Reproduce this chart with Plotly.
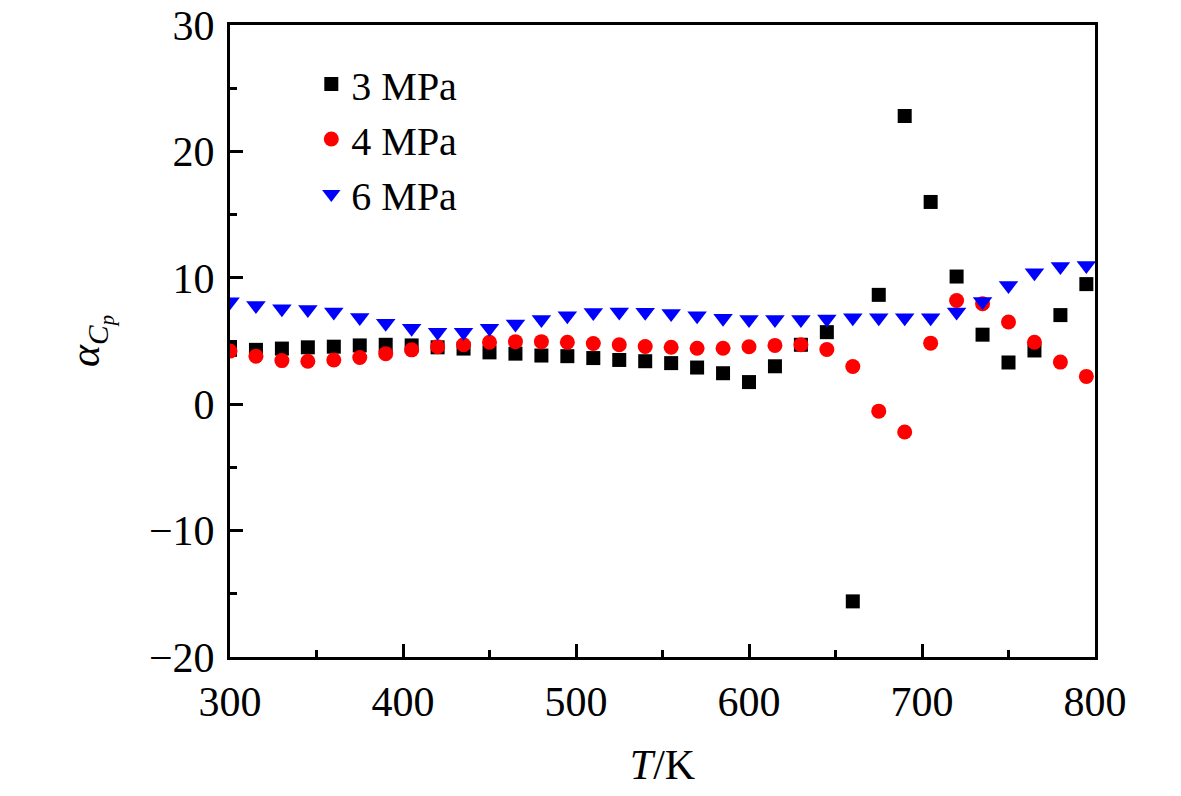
import plotly.graph_objects as go

# temperature, K
T = [300, 315, 330, 345, 360, 375, 390, 405, 420, 435, 450, 465, 480, 495, 510, 525, 540,
     555, 570, 585, 600, 615, 630, 645, 660, 675, 690, 705, 720, 735, 750, 765, 780, 795]

# alpha_cp at each pressure
a_3mpa = [4.3, 4.3, 4.4, 4.5, 4.55, 4.65, 4.7, 4.65, 4.5, 4.4, 4.1, 4.0, 3.85, 3.8, 3.65, 3.5, 3.4,
          3.25, 2.9, 2.45, 1.75, 3.0, 4.7, 5.7, -15.6, 8.65, 22.8, 16.0, 10.1, 5.5, 3.3, 4.25, 7.05, 9.5]
a_4mpa = [4.2, 3.8, 3.45, 3.4, 3.5, 3.7, 4.0, 4.3, 4.55, 4.7, 4.9, 4.95, 4.95, 4.9, 4.8, 4.7, 4.56,
          4.5, 4.43, 4.43, 4.55, 4.65, 4.7, 4.33, 2.98, -0.55, -2.2, 4.83, 8.2, 7.95, 6.5, 4.9, 3.33, 2.2]
a_6mpa = [8.1, 7.8, 7.55, 7.5, 7.3, 6.85, 6.4, 6.0, 5.7, 5.7, 6.0, 6.35, 6.7, 7.0, 7.25, 7.3, 7.27,
          7.17, 7.0, 6.8, 6.7, 6.7, 6.7, 6.75, 6.84, 6.84, 6.84, 6.84, 7.3, 8.13, 9.4, 10.4, 10.9, 10.97]

FONT = 'Liberation Serif'

fig = go.Figure()
fig.add_trace(go.Scatter(x=T, y=a_3mpa, mode='markers', name='3 MPa',
                         marker=dict(symbol='square', size=14, color='black')))
fig.add_trace(go.Scatter(x=T, y=a_4mpa, mode='markers', name='4 MPa',
                         marker=dict(symbol='circle', size=15, color='#ff0000')))
fig.add_trace(go.Scatter(x=T, y=a_6mpa, mode='markers', name='6 MPa',
                         marker=dict(symbol='triangle-down', size=17, color='#0000ff')))

axis_style = dict(showline=True, linecolor='black', linewidth=3, mirror=True,
                  ticks='inside', ticklen=13, tickwidth=2.5, tickcolor='black',
                  showgrid=False, zeroline=False, ticklabeloverflow='allow', automargin=False,
                  tickfont=dict(family=FONT, size=42, color='black'))

fig.update_xaxes(range=[300, 800], dtick=100, ticklabelstandoff=6,
                 minor=dict(dtick=50, ticks='inside', ticklen=7, tickwidth=2.5, tickcolor='black'),
                 title=dict(text='<i>T</i>/K', font=dict(family=FONT, size=42, color='black'),
                            standoff=26),
                 **axis_style)
fig.update_yaxes(range=[-20, 30], dtick=10, ticklabelstandoff=4,
                 minor=dict(dtick=5, ticks='inside', ticklen=7, tickwidth=2.5, tickcolor='black'),
                 title=dict(text='<i>α</i><sub><i>C</i><sub><i>p</i></sub></sub>',
                            font=dict(family=FONT, size=42, color='black'), standoff=37),
                 **axis_style)

fig.update_layout(
    width=1181, height=796,
    margin=dict(l=222, r=94, t=17, b=147),
    paper_bgcolor='white', plot_bgcolor='white',
    font=dict(family=FONT, size=42, color='black'),
    showlegend=True,
    legend=dict(x=0.094, y=0.958, xanchor='left', yanchor='top',
                bgcolor='rgba(0,0,0,0)', font=dict(family=FONT, size=40, color='black'),
                tracegroupgap=0),
)

fig.write_html("out.html")
